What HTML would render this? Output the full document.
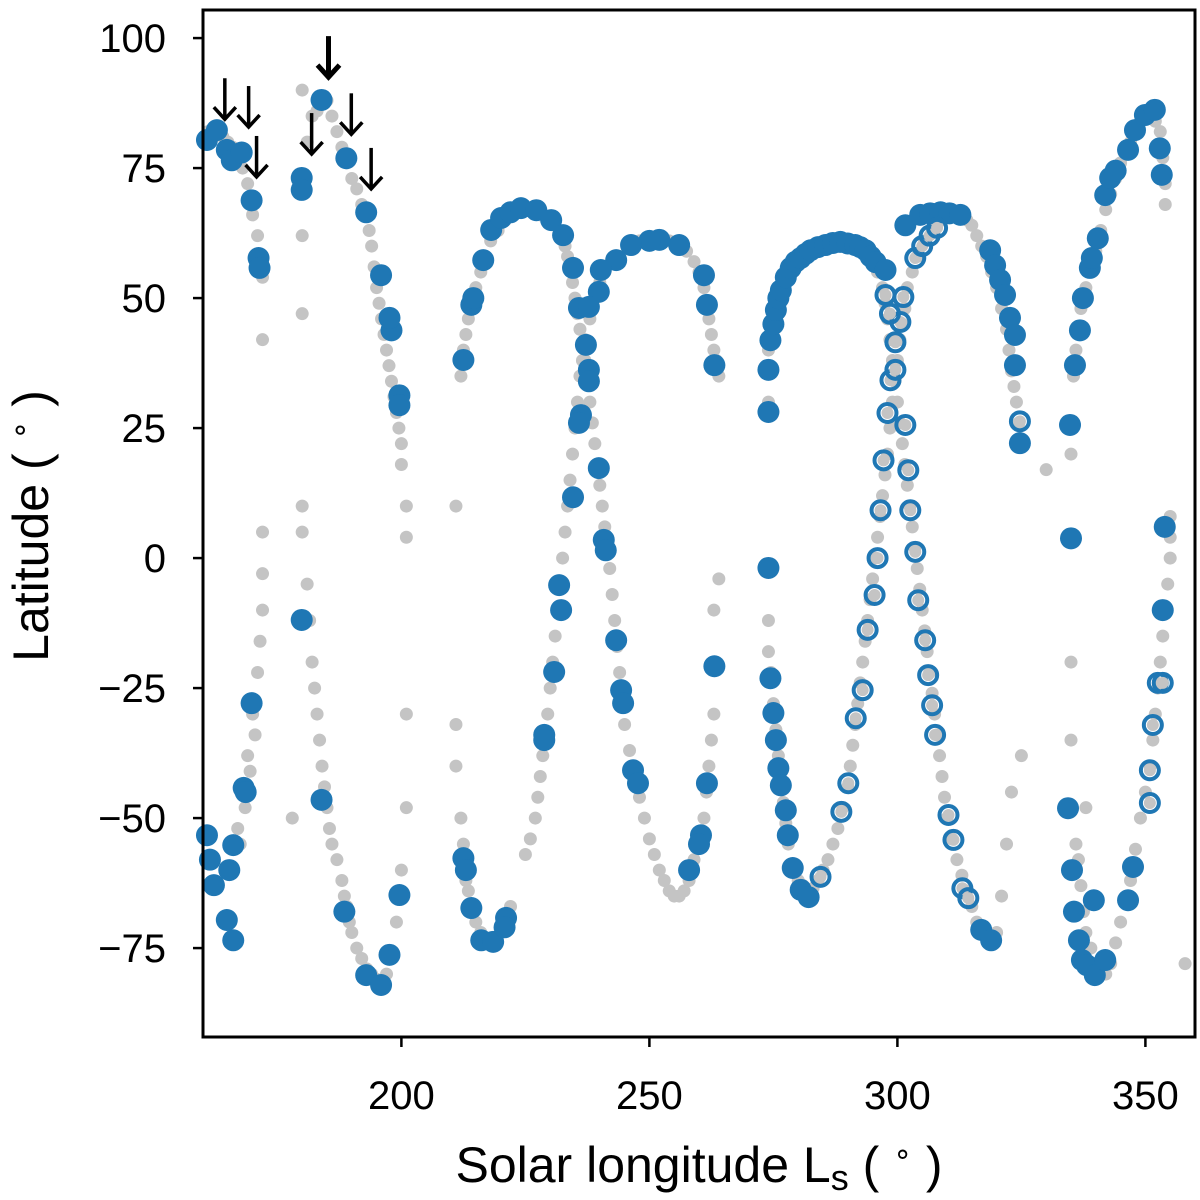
<!DOCTYPE html>
<html><head><meta charset="utf-8"><style>
html,body{margin:0;padding:0;background:#fff;}
svg{display:block;font-family:"Liberation Sans",sans-serif;}
</style></head><body>
<svg id="chart" width="1200" height="1200" viewBox="0 0 1200 1200">
<g id="grayLayer"></g>
<g id="blueLayer"></g>
<g id="openLayer"></g>
<g id="arrowLayer"></g>
<rect x="203" y="10" width="992" height="1027" fill="none" stroke="#000" stroke-width="3"/>
<g id="axes"></g>
<text x="699" y="1182" text-anchor="middle" font-size="50">Solar longitude L<tspan font-size="36" dy="8">s</tspan><tspan dy="-8"> ( </tspan><tspan font-size="30" dy="-18">∘</tspan><tspan dy="18"> )</tspan></text>
<text transform="translate(48,526) rotate(-90)" text-anchor="middle" font-size="50">Latitude ( <tspan font-size="30" dy="-18">∘</tspan><tspan dy="18"> )</tspan></text>
</svg>
<script>
const xTicks=[200,250,300,350];
const yTicks=[100,75,50,25,0,-25,-50,-75];
const yTickLabels=["100","75","50","25","0","\u221225","\u221250","\u221275"];
const grayLs=[161,163,165,167,169,171,172,172,166,167,168,169,170,171,172,172,172,
178,180,180,180,182,185,187,189,191,193,194,195,196,197,198,199,200,200,201,201,
180,180,181,182,183,184,185,186,188,189,190,192,194,196,197,199,200,201,201,
211,211,212,213,214,216,218,220,222,211,212,213,214,216,218,221,224,228,231,233,234,235,236,237,238,239,240,241,242,243,244,245,247,249,251,253,255,257,259,261,262,263,263,263,264,
225,227,228,229,230,231,232,233,234,235,236,237,239,241,244,248,252,256,259,261,262,263,264,
274,274,274,274,275,276,277,278,280,282,284,286,288,290,291,292,293,294,295,296,297,298,299,300,301,302,304,307,311,314,316,318,320,322,323,324,325,
275,277,280,284,288,292,295,297,298,299,300,301,302,303,304,305,306,307,308,309,310,312,314,316,318,320,321,322,323,325,
330,335,335,335,335,336,337,339,341,343,345,347,349,351,353,354,354,336,337,338,340,342,343,345,347,349,351,352,353,354,355,355,358,338,
186,188,190,192,193.5,194.5,195.5,196.5,197.5,198.5,199.5,
181.5,182.5,183.5,184.5,185.5,187,188.5,189.5,191,193,195,198,
212.5,213.5,215,217,219,221,
212.5,213.5,215,217,219.5,222.5,226,229.5,232,233.5,234.5,235.5,236.5,237.5,238.5,239.5,240.5,241.5,242.5,243.5,244.5,246,248,250,252,254,256,258,260,261.5,262.5,
226,227.5,228.5,229.5,230.5,231.5,232.5,233.5,234.5,235.5,236.5,238,240,242.5,246,250,254,257.5,260,261.5,262.5,263.5,
274.5,275.5,276.5,277.5,279,281,283,285,287,289,290.5,291.5,292.5,293.5,294.5,295.5,296.5,297.5,298.5,299.5,300.5,301.5,303,305.5,309,312.5,315,317,319,321,322.5,323.5,324.5,
274.5,276,278.5,282,286,290,293.5,296,297.5,298.5,299.5,300.5,301.5,302.5,303.5,304.5,305.5,306.5,307.5,308.5,309.5,311,313,315,317,319,
335.5,336.5,338,340,342,344,346,348,350,352,353.5,
336.5,337.5,339,341,344,346,348,350,351.5,352.5,353.5,354.5,355,
162,164,166,168,170,170.5,169.5,168.5,167.5,171.5,181,183,184];
const grayLat=[82,83,80,78,72,62,54,42,-60,-52,-45,-38,-30,-22,-10,-3,5,
-50,47,62,90,85,88,82,76,71,66,60,52,46,40,34,28,22,18,10,4,
10,5,-5,-20,-30,-40,-48,-55,-62,-67,-72,-77,-80,-82,-80,-70,-60,-48,-30,
-32,-40,-50,-62,-67,-72,-74,-72,-67,10,35,43,48,55,61,65,67,66,64,60,56,50,44,38,30,22,14,6,-2,-12,-22,-32,-42,-50,-57,-62,-65,-64,-58,-50,-40,-30,-20,-10,-4,
-57,-50,-42,-35,-25,-15,-5,5,15,25,35,42,50,55,58,61,61,60,57,52,46,40,35,
40,30,-12,-18,-28,-38,-47,-55,-62,-64,-62,-58,-52,-44,-36,-28,-20,-12,-4,4,12,20,30,38,45,52,58,63,66,65,62,58,52,44,36,30,22,
46,52,57,60,61,60,57,52,46,38,30,22,14,6,-2,-10,-18,-26,-34,-42,-50,-58,-64,-70,-73,-72,-65,-55,-45,-38,
17,20,25,-20,-35,40,48,55,63,70,76,80,84,86,82,72,68,-55,-63,-72,-78,-80,-78,-70,-62,-50,-40,-30,-20,-10,0,8,-78,-48,
85,79,73,68,63,56,49,43,37,31,25,
-12,-25,-35,-44,-52,-58,-65,-70,-75,-79,-81,-76,
-55,-64,-70,-73,-73.5,-70,
40,46,52,58,63,66,67,65,62,58,53,47,41,34,26,18,10,2,-7,-17,-27,-37,-46,-54,-60,-64,-65,-62,-54,-45,-35,
-54,-46,-38,-30,-20,-10,0,10,20,30,38,46,53,57,60,61,61,59,55,49,43,38,
-22,-33,-43,-51,-59,-63,-63.5,-60,-55,-48,-40,-32,-24,-16,-8,0,8,16,25,34,42,48,55,61,65,66,64,60,55,48,40,33,26,
43,49,55,59,61,61,59,55,49,42,34,26,18,10,2,-6,-14,-22,-30,-38,-46,-54,-61,-67,-72,-73,
35,44,52,59,67,73,78,82,85,84,77,
-58,-68,-75,-79,-74,-66,-56,-45,-35,-25,-15,-5,4,
81,81,79,75,66,-34,-41,-48,-55,-16,80,86,88];
const blueLs=[160.8,162.8,164.8,165.8,167.8,169.8,171.2,171.4,169.8,168.2,168.6,166.1,165.3,164.8,166.1,162.2,160.8,161.4,
179.9,179.9,179.9,183.9,188.5,192.9,195.9,197.6,199.6,199.6,199.6,198,197.6,195.9,192.9,188.9,183.9,
212.5,214.1,214.5,216.5,212.5,213,214.1,216.1,218.5,221.1,220.8,218.1,220.1,222,224.1,227.2,230.2,232.6,234.6,235.8,237.2,237.8,237.8,236.2,235.8,234.6,239.8,240.8,241.2,231.8,232.2,230.8,228.8,228.8,243.3,244.3,244.7,246.7,247.7,260.4,260,258,261.6,263.1,263.1,261.6,261,256,252,250,246.3,243.3,240.2,239.8,237.8,
274,274,274,274.4,275,275.5,276,276.5,277.5,277.9,278.9,280.5,282.1,274.4,275,275.5,276,276.5,277.5,278.5,279.5,280.5,281.5,282.5,284,285.5,287,288.5,290,291.5,292.5,293.6,294.6,295.6,297.6,
301.6,304.6,306.6,308.7,310.5,312.7,318.7,319.7,320.7,321.7,322.7,323.7,323.7,324.7,316.9,318.9,
335,334.4,335.2,335.8,334.8,336.8,337.4,338.8,339.2,340.4,341.9,342.9,344,346.5,347.9,349.9,351.9,352.9,353.3,353.9,335.6,336.6,337.2,338.2,339.8,341.9,339.6,347.5,346.5,353.5];
const blueLat=[80.4,82.3,78.5,76.5,78,68.8,57.7,55.8,-27.9,-44.2,-45,-55.2,-60,-69.6,-73.5,-62.9,-53.3,-58,
73.1,70.8,-11.9,-46.5,-68,-80.2,-82.1,-76.3,-64.8,31.3,29.4,43.8,46.2,54.4,66.5,76.9,88.1,
38.1,48.7,50,57.3,-57.7,-60,-67.3,-73.5,-73.8,-69.2,-71,63.1,65.4,66.5,67.3,66.9,65,62.1,55.8,48.1,41,36.2,34,27.5,26,11.7,17.3,3.5,1.5,-5.2,-10,-21.9,-34,-35,-15.8,-25.4,-27.9,-40.8,-43.3,-53.3,-55,-60,-43.3,-20.8,37.1,48.7,54.4,60.2,61.2,61,60.2,57.3,55.4,51.2,48.3,
36.2,28.1,-1.9,-23.1,-29.8,-35,-40.4,-43.7,-48.5,-53.3,-59.6,-63.8,-65.2,41.9,45,47.7,50,51.5,54,55.8,57,57.7,58.5,59.2,59.8,60.2,60.6,60.8,60.5,60.2,59.8,59.2,58,56.9,55.4,
64,66,66.3,66.5,66.3,66,59.2,56.3,53.5,50.6,46.2,42.9,37.1,22.1,-71.5,-73.5,
3.8,-48.1,-60,37.1,25.6,43.8,50,55.8,57.7,61.5,69.8,73.1,74.5,78.5,82.3,85.2,86.2,78.8,73.7,6,-68,-73.5,-77.3,-78.3,-80.2,-77.3,-65.8,-59.4,-65.8,-10];
const openLs=[284.5,288.7,290.1,291.6,293,294,295.4,296,296.6,297.2,298,298.6,299.6,299.6,300.6,301.2,297.6,298.5,
301.6,302.2,302.6,303.6,304.2,305.6,306.2,307,307.6,310.3,311.3,313.1,314.3,303.6,305,306.5,308,
324.7,350.9,350.9,351.5,352.5,353.5];
const openLat=[-61.3,-48.8,-43.3,-30.8,-25.4,-13.8,-7.1,0,9.2,18.8,27.9,34.2,36.2,41.5,45.4,50.2,50.6,47,
25.6,16.9,9.2,1.2,-8.1,-15.8,-22.5,-28.3,-34,-49.4,-54.2,-63.5,-65.4,57.7,60,62,63.5,
26.3,-47.1,-40.8,-32.1,-24,-24];
const arrowLs=[164.4,169.2,170.8,185.3,181.9,189.9,193.9];
const arrowLat=[84.2,82.7,73.1,92.3,77.5,81.3,70.8];

const NS='http://www.w3.org/2000/svg';
const X0=203,X1=1195,Y0=10,Y1=1037;
const xMin=160,xMax=360,yMin=-92.1,yMax=105.4;
function sx(v){return X0+(v-xMin)/(xMax-xMin)*(X1-X0);}
function sy(v){return Y1-(v-yMin)/(yMax-yMin)*(Y1-Y0);}
function mk(tag,attrs,parent){const e=document.createElementNS(NS,tag);for(const k in attrs)e.setAttribute(k,attrs[k]);parent.appendChild(e);return e;}

const gL=document.getElementById('grayLayer');
for(let i=0;i<grayLs.length;i++){
  const c=mk('circle',{cx:sx(grayLs[i]),cy:sy(grayLat[i]),r:6.5,fill:'#c4c4c4'},gL);
  
  
}
const bL=document.getElementById('blueLayer');
for(let i=0;i<blueLs.length;i++){
  const c=mk('circle',{cx:sx(blueLs[i]),cy:sy(blueLat[i]),r:11,fill:'#1f77b4'},bL);
  
  
}
const oL=document.getElementById('openLayer');
for(let i=0;i<openLs.length;i++){
  mk('circle',{cx:sx(openLs[i]),cy:sy(openLat[i]),r:6,fill:'#c4c4c4'},oL);
  const c=mk('circle',{cx:sx(openLs[i]),cy:sy(openLat[i]),r:9,fill:'none',stroke:'#1f77b4','stroke-width':4},oL);
  
  
}
const aL=document.getElementById('arrowLayer');
for(let i=0;i<arrowLs.length;i++){
  const x=sx(arrowLs[i]),y=sy(arrowLat[i]);
  const g=mk('g',{stroke:'#000','stroke-width':i===3?5:3.5,fill:'none'},aL);
  
  
  mk('line',{x1:x,y1:y-42,x2:x,y2:y-2},g);
  mk('polyline',{points:(x-11)+','+(y-13)+' '+x+','+(y-1)+' '+(x+11)+','+(y-13)},g);
}
const ax=document.getElementById('axes');
xTicks.forEach(t=>{
  const x=sx(t);
  const l=mk('line',{x1:x,y1:Y1,x2:x,y2:Y1+10,stroke:'#000','stroke-width':2.5},ax);
  
  
  const tx=mk('text',{x:x,y:Y1+72,'text-anchor':'middle','font-size':40},ax);
  
  
  tx.textContent=t;
});
yTicks.forEach((t,i)=>{
  const y=sy(t);
  const l=mk('line',{x1:X0-10,y1:y,x2:X0,y2:y,stroke:'#000','stroke-width':2.5},ax);
  
  
  const tx=mk('text',{x:X0-37,y:y+14,'text-anchor':'end','font-size':40},ax);
  
  
  tx.textContent=yTickLabels[i];
});
</script>
</body></html>
